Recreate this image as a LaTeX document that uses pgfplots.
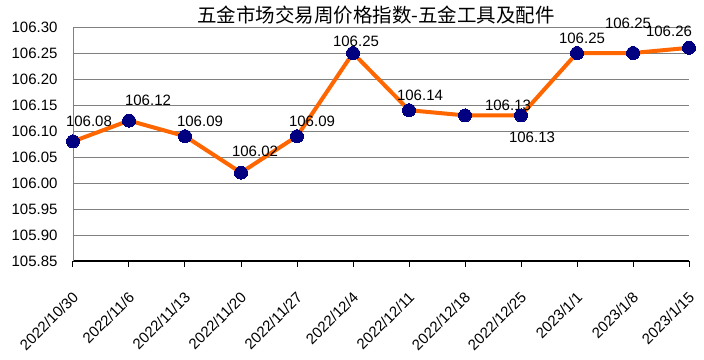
\documentclass[border=0pt]{standalone}
\usepackage{pgfplots}
\pgfplotsset{compat=1.18}
\usepackage{fontspec}
\setmainfont{Liberation Sans}
\newfontfamily\cjk{Noto Sans CJK SC}
\definecolor{lineor}{RGB}{255,102,0}
\definecolor{marknavy}{RGB}{0,0,128}
\definecolor{gridg}{RGB}{128,128,128}
\pgfplotstableread{
x y dx dy
0 106.08 16 20
1 106.12 19 20
2 106.09 15 15
3 106.02 14 21
4 106.09 15 15
5 106.25 3 12
6 106.14 11 15
7 106.13 43 10
8 106.13 11 -22
9 106.25 5 15
10 106.25 -5 30
11 106.26 -20 16
}\datatable
\begin{document}
\begin{tikzpicture}[x=1pt,y=1pt]
\useasboundingbox (-73,-98) rectangle (631,261);
\begin{axis}[
  at={(0,0)}, anchor=south west,
  scale only axis, width=616pt, height=234pt,
  xmin=0, xmax=11, ymin=105.85, ymax=106.30,
  clip=false,
  axis x line*=bottom, axis y line*=left,
  x axis line style={black, line width=1.5pt, -},
  y axis line style={gridg, line width=0.8pt, -},
  ymajorgrids, grid style={gridg, line width=1pt},
  ytick={105.85,105.90,105.95,106.00,106.05,106.10,106.15,106.20,106.25,106.30},
  yticklabels={105.85,105.90,105.95,106.00,106.05,106.10,106.15,106.20,106.25,106.30},
  ytick style={draw=none},
  yticklabel style={font=\fontsize{15}{15}\selectfont, anchor=east, xshift=-6pt},
  xtick={0,...,11},
  xticklabels={2022/10/30,2022/11/6,2022/11/13,2022/11/20,2022/11/27,2022/12/4,2022/12/11,2022/12/18,2022/12/25,2023/1/1,2023/1/8,2023/1/15},
  xtick style={black, line width=1pt},
  tick align=outside, major tick length=6pt,
  xticklabel style={font=\fontsize{15}{15}\selectfont, xshift=5pt, yshift=-25pt, rotate=45, anchor=east},
]
\addplot[lineor, line width=4pt, mark=*, mark size=6.5pt,
  mark options={fill=marknavy, draw=marknavy, line width=0pt},
  visualization depends on={\thisrow{dx} \as \dx},
  visualization depends on={\thisrow{dy} \as \dy},
  nodes near coords,
  point meta=explicit symbolic,
  nodes near coords style={font=\fontsize{15}{15}\selectfont, text=black, anchor=center, xshift=\dx pt, yshift=\dy pt}
] table[x=x, y=y, meta=y] {\datatable};
\end{axis}
\node[font=\cjk\fontsize{19.5}{19.5}\selectfont] at (303,246) {五金市场交易周价格指数-五金工具及配件};
\end{tikzpicture}
\end{document}
